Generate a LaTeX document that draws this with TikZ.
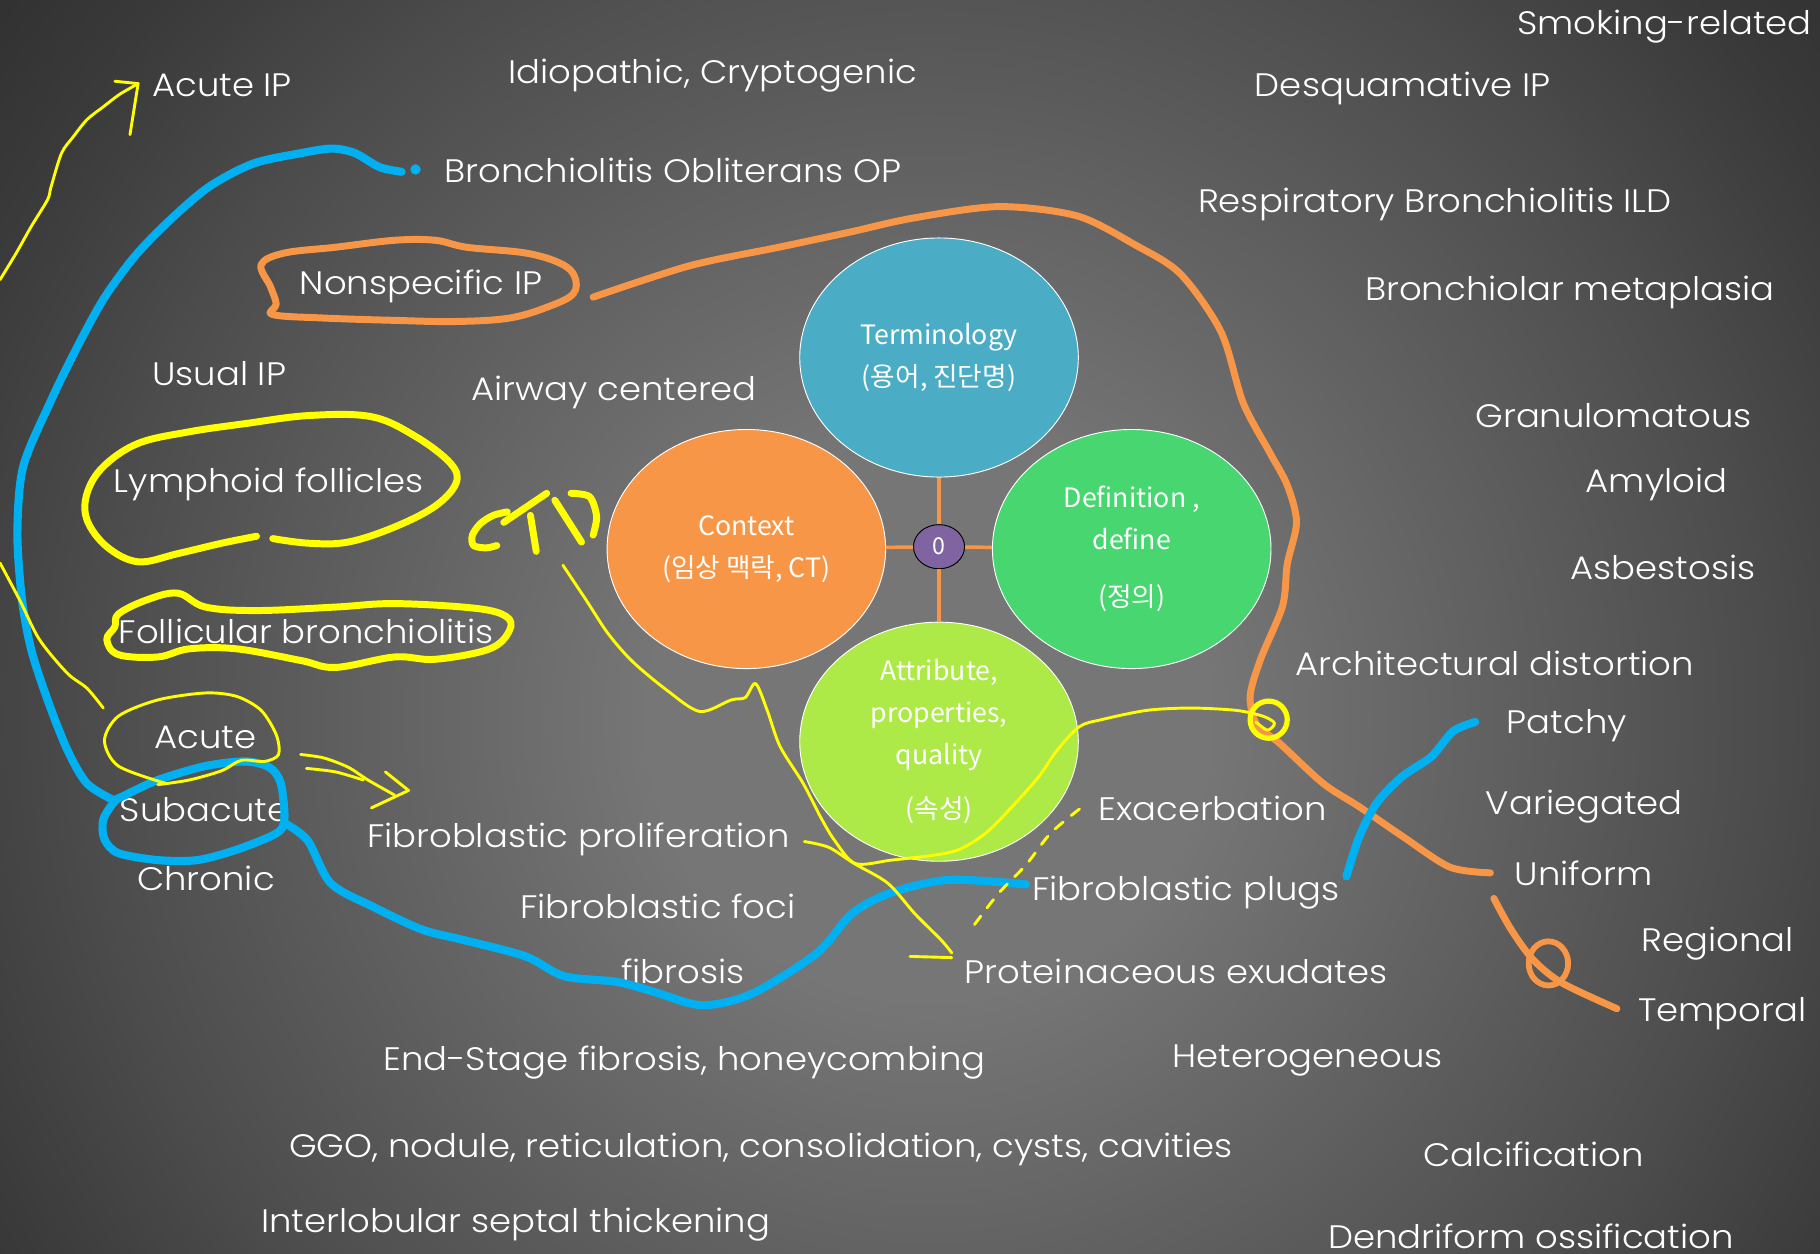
\documentclass[tikz,border=0pt]{standalone}
\usepackage{fontspec}
\IfFontExistsTF{Poppins Light}{\setmainfont{Poppins Light}[FakeStretch=1.09]}{\setmainfont{Poppins}[FakeStretch=1.05]}
\newfontfamily\korfont{Noto Sans CJK KR}
\usepackage{xcolor}
\usetikzlibrary{shapes, positioning}

\definecolor{bga}{RGB}{118,118,118}
\definecolor{bgb}{RGB}{76,76,76}
\definecolor{bgc}{RGB}{58,58,58}
\definecolor{bgd}{RGB}{38,38,38}
\definecolor{bge}{RGB}{15,15,15}
\definecolor{inkorange}{HTML}{F79646}
\definecolor{inkblue}{HTML}{00B0F0}
\definecolor{inkyellow}{HTML}{FFFF00}
\definecolor{termblue}{HTML}{4BACC6}
\definecolor{defgreen}{RGB}{72,214,112}
\definecolor{attgreen}{RGB}{173,234,72}
\definecolor{hubpurple}{HTML}{8064A2}

\pgfdeclareradialshading{slidebg}{\pgfpoint{0bp}{0bp}}{color(0bp)=(bga); color(6bp)=(bga); color(18bp)=(bgb); color(22.5bp)=(bgc); color(29bp)=(bgd); color(37.5bp)=(bge); color(60bp)=(bge)}

\begin{document}
\begin{tikzpicture}[x=1pt, y=-1pt,
    lbl/.style={text=white, anchor=base west, inner sep=0pt, font=\fontsize{28}{32}\selectfont},
    bubble/.style={ellipse, draw=white, line width=0.8pt, minimum width=240pt, minimum height=206pt,
        inner sep=0pt, text=white, align=center, font=\korfont\fontsize{23}{36}\selectfont},
    hub/.style={ellipse, draw=black, line width=0.8pt, fill=hubpurple, minimum width=44pt, minimum height=38pt,
        inner sep=0pt, text=white, font=\korfont\fontsize{20}{24}\selectfont},
    spoke/.style={inkorange, line width=3pt},
    orangeink/.style={inkorange, line width=6pt, line cap=round, line join=round},
    blueink/.style={inkblue, line width=7pt, line cap=round, line join=round},
    yellowink/.style={inkyellow, line width=6pt, line cap=round, line join=round},
    yellowthin/.style={inkyellow, line width=2.5pt, line cap=round, line join=round}]

    \useasboundingbox (0,0) rectangle (1568,1080);
    \begin{scope}
        \clip (0,0) rectangle (1568,1080);
        \shade[shading=slidebg] (-200,-380) rectangle (1800,1620);
    \end{scope}

    % the four bubbles round the hub
    \node[bubble, fill=termblue] (term) at (809,308) {Terminology\\(용어, 진단명)};
    \node[bubble, fill=inkorange] (ctx) at (643,473) {Context\\(임상 맥락, CT)};
    \node[bubble, fill=defgreen] (defn) at (975,473) {Definition ,\\define\\[13pt](정의)};
    \node[bubble, fill=attgreen] (attr) at (809,639) {Attribute,\\properties,\\quality\\[11pt](속성)};
    \node[hub] (hub) at (809,471) {0};
    \foreach \b in {term, ctx, defn, attr}
        \draw[spoke] (hub) -- (\b);

    % labels
    \foreach \n/\x/\y/\t in {smkrel/1307/30/Smoking-related, acuteip/131/83/Acute IP,
        idio/438/72/{Idiopathic, Cryptogenic}, desq/1081/83/Desquamative IP,
        boop/383/157/Bronchiolitis Obliterans OP, rbild/1032/183/Respiratory Bronchiolitis ILD,
        nsip/258/254/Nonspecific IP, bmeta/1176/259/Bronchiolar metaplasia,
        uip/131/332/Usual IP, airway/406/345/Airway centered, granu/1271/368/Granulomatous,
        lymph/98/424/Lymphoid follicles, amyl/1366/424/Amyloid, asbes/1353/499/Asbestosis,
        follbr/102/554/Follicular bronchiolitis, archd/1116/582/Architectural distortion,
        acute/133/645/Acute, patchy/1298/632/Patchy, subac/103/708/Subacute,
        varieg/1280/702/Variegated, exacer/946/707/Exacerbation,
        fibpro/316/730/Fibroblastic proliferation, chron/118/767/Chronic,
        unif/1305/763/Uniform, fibplug/889/776/Fibroblastic plugs,
        fibfoci/448/791/Fibroblastic foci, regio/1414/820/Regional,
        fibro/535/847/fibrosis, protex/831/847/Proteinaceous exudates,
        tempo/1411/880/Temporal, endst/330/922/{End-Stage fibrosis, honeycombing},
        hetero/1010/920/Heterogeneous,
        ggo/249/997/{GGO, nodule, reticulation, consolidation, cysts, cavities},
        calc/1226/1005/Calcification, interl/225/1062/Interlobular septal thickening,
        dendr/1144/1076/Dendriform ossification}
        \node[lbl] (\n) at (\x,\y) {\t};

    % orange marks
    \draw[orangeink] plot[smooth cycle, tension=0.6] coordinates {(235,271) (238,262) (233,247) (225,228) (245,218)
        (289,213) (340,207) (375,207) (402,213) (453,218) (483,227) (495,238) (494,253) (473,264) (439,274)
        (392,277) (340,276) (279,274)};
    \draw[orangeink] plot[smooth] coordinates {(511,256) (594,229) (671,213) (732,200) (786,188) (860,178)
        (928,186) (978,211) (1017,236) (1052,286) (1071,347) (1094,390) (1109,418) (1117,450) (1109,486)
        (1105,522) (1086,568) (1077,600) (1083,625) (1102,640) (1140,675) (1171,695) (1209,721) (1249,747)
        (1284,752)};
    \draw[orangeink] plot[smooth] coordinates {(1287,774) (1302,801) (1321,827) (1346,847) (1393,869)};
    \draw[orangeink, line width=5pt] (1334,830) ellipse[x radius=17pt, y radius=19pt];

    % blue marks
    \fill[inkblue] (358,146) circle[radius=4.5pt];
    \draw[blueink] plot[smooth] coordinates {(346,148) (327,144) (306,132) (286,128) (259,132) (218,141)
        (180,161) (146,190) (116,221) (89,258) (65,302) (44,345) (20,402) (15,459) (19,517) (27,560)
        (41,603) (58,646) (75,675) (99,690)};
    \draw[blueink] plot[smooth cycle] coordinates {(99,690) (89,706) (90,723) (102,735) (136,741) (170,741)
        (204,732) (238,718) (245,706) (242,675) (232,661) (211,656) (177,660) (136,672) (106,686)};
    \draw[blueink] plot[smooth] coordinates {(245,709) (265,724) (285,761) (321,781) (364,801) (400,810)
        (453,824) (486,841) (532,846) (565,855) (605,866) (648,856) (704,821) (734,787) (768,769)
        (818,758) (884,762)};
    \draw[blueink] plot[smooth] coordinates {(1271,622) (1252,630) (1233,652) (1208,669) (1186,692)
        (1171,721) (1160,755)};

    % yellow marks
    \draw[yellowink] plot[smooth, tension=0.6] coordinates {(221,462) (191,468) (153,477) (119,484) (92,471)
        (75,448) (75,425) (89,402) (119,382) (163,372) (211,365) (266,358) (320,359) (358,376) (388,399)
        (393,416) (375,436) (340,454) (300,467) (266,468) (235,464)};
    \draw[yellowink] plot[smooth cycle, tension=0.6] coordinates {(99,540) (102,529) (126,517) (153,511)
        (177,523) (221,526) (289,523) (340,520) (409,524) (436,531) (439,543) (422,559) (375,568)
        (340,566) (289,575) (259,569) (204,559) (163,559) (136,566) (102,564) (92,551)};
    % CTD
    \draw[yellowink] plot[smooth] coordinates {(437,441) (425,444) (414,451) (407,461) (408,470) (419,472) (428,470)};
    \draw[yellowink] (434,450) -- (471,425) (457,444) -- (462,475);
    \draw[yellowink] (478,431) -- (501,467);
    \draw[yellowink] plot[smooth] coordinates {(492,425) (508,428) (514,445) (511,461)};

    \draw[yellowthin] plot[smooth] coordinates {(0,241) (14,218) (27,195) (41,172) (44,161) (53,132)
        (63,118) (75,103) (89,92) (102,82) (112,76) (119,72)};
    \draw[yellowthin] (99,70) -- (119,72) -- (112,116);
    \draw[yellowthin] plot[smooth] coordinates {(0,485) (17,517) (34,551) (58,580) (75,593) (89,610)};
    \draw[yellowthin] plot[smooth] coordinates {(143,675) (102,660) (90,638) (102,617) (136,603) (177,597)
        (204,600) (225,612) (238,633) (240,650) (228,656) (208,655) (191,664) (163,672) (136,676)};
    \draw[yellowthin] plot[smooth] coordinates {(259,650) (279,653) (300,661) (317,672) (340,685)};
    \draw[yellowthin] plot[smooth] coordinates {(264,662) (289,665) (313,672)};
    \draw[yellowthin] (332,665) -- (352,681) -- (320,696);

    \draw[yellowthin] plot[smooth, tension=0.5] coordinates {(485,487) (505,517) (524,546) (545,570)
        (575,595) (603,613) (630,603) (642,601) (651,589) (661,612) (672,643) (692,675) (707,704)
        (719,724) (737,744) (768,741) (803,737) (826,732) (849,718) (872,695) (895,669) (911,646)
        (930,626) (949,620) (988,612) (1026,610) (1065,612) (1088,617) (1098,623) (1092,629) (1082,622)};
    \draw[yellowthin, line width=4.5pt] (1093,620) circle[radius=16pt];
    \draw[yellowthin] plot[smooth] coordinates {(693,725) (714,730) (736,744) (765,761) (788,787)
        (811,810) (820,821)};
    \draw[yellowthin] (784,824) -- (820,825);
    \draw[yellowthin, dash pattern=on 9pt off 9pt] plot[smooth] coordinates {(930,697) (905,718)
        (884,745) (860,770) (837,800)};
\end{tikzpicture}
\end{document}
